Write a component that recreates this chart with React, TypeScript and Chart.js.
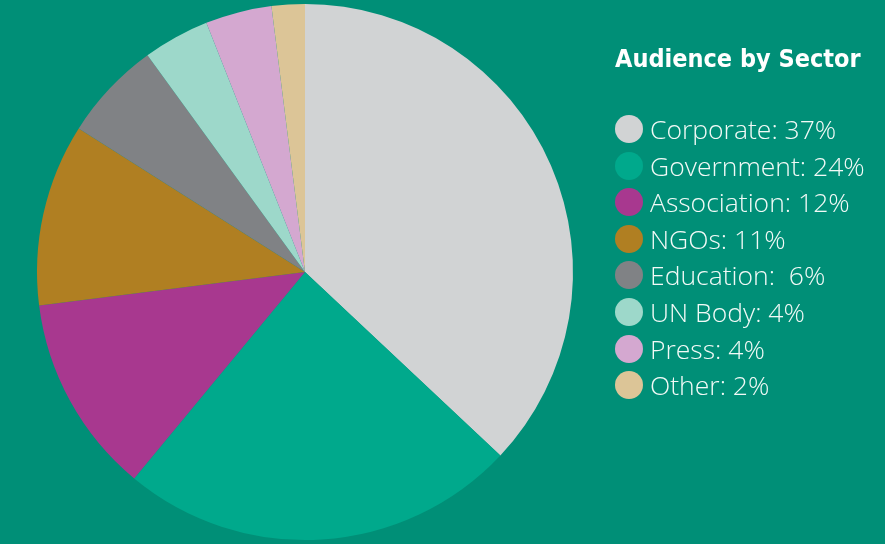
import React, { useEffect, useRef } from "react";
import { Chart, registerables } from "chart.js";

Chart.register(...registerables);

const categories = ["Corporate", "Government", "Association", "NGOs", "Education", "UN Body", "Press", "Other"];
const legendLabels = ["Corporate: 37%", "Government: 24%", "Association: 12%", "NGOs: 11%", "Education:  6%", "UN Body: 4%", "Press: 4%", "Other: 2%"];
const values = [37, 24, 12, 11, 6, 4, 4, 2];
const colors = ["#D1D3D4", "#00A98C", "#A8388F", "#B07F22", "#808285", "#9DD8CA", "#D4A8D0", "#DCC597"];
const title = "Audience by Sector";

export default function App() {
  const ref = useRef<HTMLCanvasElement | null>(null);

  useEffect(() => {
    document.body.style.margin = "0";
    const ctx = ref.current;
    if (!ctx) return;
    const chart = new Chart(ctx, {
      type: "pie",
      data: {
        labels: categories,
        datasets: [
          {
            data: values,
            backgroundColor: colors,
            borderWidth: 0,
          },
        ],
      },
      options: {
        responsive: false,
        animation: false,
        layout: { padding: { left: 37, right: 312, top: 4, bottom: 4 } },
        plugins: {
          legend: { display: false },
          tooltip: { enabled: false },
        },
      },
    });
    return () => chart.destroy();
  }, []);

  return (
    <div
      style={{
        position: "fixed",
        left: 0,
        top: 0,
        width: 885,
        height: 544,
        background: "#008F77",
        overflow: "hidden",
      }}
    >
      <canvas ref={ref} width={885} height={544} style={{ position: "absolute", left: 0, top: 0 }} />
      <div
        style={{
          position: "absolute",
          left: 615,
          top: 44,
          color: "#FFFFFF",
          fontFamily: "'DejaVu Sans Condensed', 'DejaVu Sans', sans-serif",
          fontWeight: "bold",
          fontSize: 25,
          fontStretch: "condensed",
          whiteSpace: "nowrap",
        }}
      >
        {title}
      </div>
      {legendLabels.map((lab, i) => (
        <div
          key={lab}
          style={{
            position: "absolute",
            left: 615,
            top: 129 + i * 36.6 - 18,
            height: 36,
            display: "flex",
            alignItems: "center",
            whiteSpace: "pre",
          }}
        >
          <span
            style={{
              display: "inline-block",
              width: 28,
              height: 28,
              borderRadius: "50%",
              background: colors[i],
              marginRight: 7,
            }}
          />
          <span
            style={{
              color: "#F2FAF7",
              fontFamily: "'Open Sans', sans-serif",
              fontWeight: 300,
              fontSize: 26.5,
            }}
          >
            {lab}
          </span>
        </div>
      ))}
    </div>
  );
}
